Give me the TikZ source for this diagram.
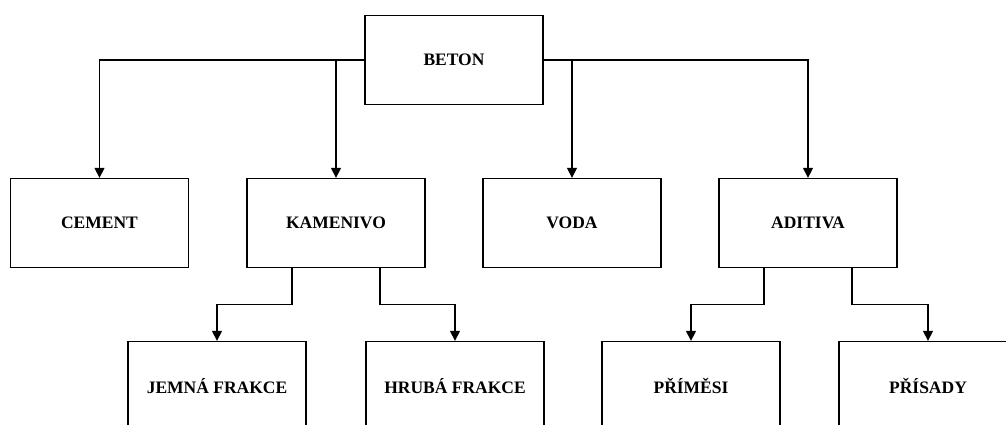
\documentclass[tikz,border=0pt]{standalone}
\usepackage{fontspec}
\setmainfont{Liberation Serif}
\usetikzlibrary{arrows.meta}
\tikzset{
    box/.style={draw,rectangle,line width=1.3pt,minimum width=178pt,minimum height=89pt,font=\fontsize{17.5}{20}\selectfont\bfseries},
    arr/.style={line width=1.3pt,-{Triangle[width=10pt,length=10pt]}}
}
\begin{document}
\begin{tikzpicture}[x=1pt,y=-1pt]
        \useasboundingbox (0,0) rectangle (1006,425);
        %% Top
        \node[box] (beton) at (454,60) {BETON};
        %% Middle row
        \node[box] (cement) at (99.5,223) {CEMENT};
        \node[box] (kamenivo) at (336,223) {KAMENIVO};
        \node[box] (voda) at (572,223) {VODA};
        \node[box] (aditiva) at (808,223) {ADITIVA};
        %% Bottom row
        \node[box] (jemna) at (217,386) {JEMNÁ FRAKCE};
        \node[box] (hruba) at (455,386) {HRUBÁ FRAKCE};
        \node[box] (primesi) at (691,386) {PŘÍMĚSI};
        \node[box] (prisady) at (928,386) {PŘÍSADY};
        %% Edges
        \draw[arr] (beton.west) -| (cement.north);
        \draw[arr] (beton.west) -| (kamenivo.north);
        \draw[arr] (beton.east) -| (voda.north);
        \draw[arr] (beton.east) -| (aditiva.north);
        \draw[arr] ([xshift=-44pt]kamenivo.south) -- ++(0,36) -| (jemna.north);
        \draw[arr] ([xshift=44pt]kamenivo.south) -- ++(0,36) -| (hruba.north);
        \draw[arr] ([xshift=-44pt]aditiva.south) -- ++(0,36) -| (primesi.north);
        \draw[arr] ([xshift=44pt]aditiva.south) -- ++(0,36) -| (prisady.north);
    \end{tikzpicture}
\end{document}
